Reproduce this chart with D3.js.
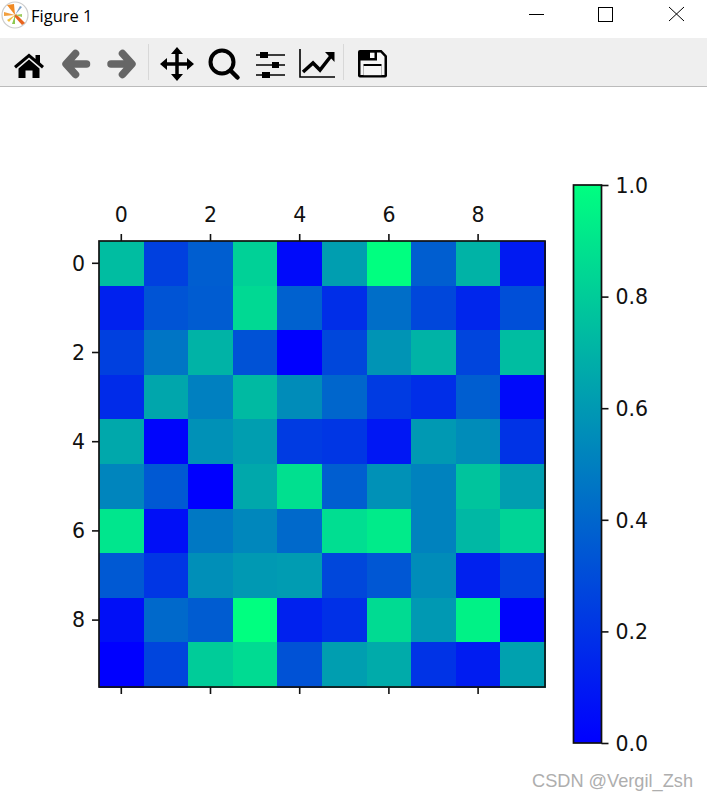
<!DOCTYPE html>
<html><head><meta charset="utf-8">
<style>html,body{margin:0;padding:0;background:#fff;overflow:hidden}svg{display:block}</style>
<script src="https://cdnjs.cloudflare.com/ajax/libs/d3/7.8.5/d3.min.js"></script>
</head><body><svg id="c" width="707" height="801"></svg>
<script>
const rowLabels=[0,1,2,3,4,5,6,7,8,9];
const colLabels=[0,1,2,3,4,5,6,7,8,9];
const row0=[0.74,0.25,0.37,0.82,0.04,0.62,1.00,0.37,0.70,0.10];
const row1=[0.13,0.33,0.36,0.85,0.38,0.18,0.43,0.28,0.15,0.31];
const row2=[0.25,0.46,0.70,0.32,0.00,0.28,0.58,0.70,0.27,0.74];
const row3=[0.17,0.65,0.50,0.73,0.55,0.40,0.23,0.18,0.37,0.04];
const row4=[0.66,0.02,0.57,0.62,0.23,0.21,0.09,0.60,0.55,0.20];
const row5=[0.52,0.35,0.00,0.66,0.88,0.37,0.57,0.51,0.77,0.62];
const row6=[0.90,0.06,0.47,0.53,0.41,0.87,0.92,0.51,0.72,0.83];
const row7=[0.35,0.21,0.56,0.60,0.61,0.28,0.34,0.55,0.13,0.26];
const row8=[0.06,0.41,0.36,1.00,0.13,0.19,0.86,0.60,0.95,0.02];
const row9=[0.00,0.27,0.80,0.86,0.32,0.62,0.67,0.20,0.11,0.63];
const matrix=[row0,row1,row2,row3,row4,row5,row6,row7,row8,row9];
const axisTicks=[0,2,4,6,8];
const cbarTicks=[0,0.2,0.4,0.6,0.8,1];

const svg=d3.select("#c");
const FONT="'DejaVu Sans',sans-serif";
const color=d3.scaleLinear().domain([0,1]).range(["rgb(0,0,255)","rgb(0,255,128)"]);

// window chrome
svg.append("rect").attr("width",707).attr("height",801).attr("fill","#fff");
svg.append("rect").attr("x",0).attr("y",38).attr("width",707).attr("height",48).attr("fill","#efefef");
svg.append("rect").attr("x",0).attr("y",86).attr("width",707).attr("height",1).attr("fill","#bbb");
svg.append("text").attr("x",31).attr("y",22).attr("font-family","'Open Sans',sans-serif").attr("font-size",16.5).attr("fill","#000").text("Figure 1");
// app icon
const ic=svg.append("g").attr("transform","translate(15,15)");
ic.append("circle").attr("r",13).attr("fill","#fff").attr("stroke","#ccc").attr("stroke-width",1.2);
[["M0 0L-8 -10L-1 -11Z","#f08a24"],["M0 0L-11 -3L-11 1Z","#f2a040"],["M1 -1L10 8L7 10L-1 1Z","#e8641e"],["M0 0L-8 5L-6 7Z","#f0c040"],["M0 0L-3 9L0 9Z","#8cc850"],["M0 0L5 -9L7 -8Z","#7aa0c8"],["M0 0L7 -1L7 2Z","#9ccc60"]]
 .forEach(d=>ic.append("path").attr("d",d[0]).attr("fill",d[1]));
// window buttons
const wb=svg.append("g").attr("fill","none").attr("stroke","#000").attr("stroke-width",1).attr("shape-rendering","crispEdges");
wb.append("path").attr("d","M529 14.5H544");
wb.append("rect").attr("x",598.5).attr("y",7.5).attr("width",14).attr("height",14);
svg.append("path").attr("d","M669 7L684 21M684 7L669 21").attr("stroke","#000").attr("fill","none").attr("stroke-width",1);

// toolbar icons
const tb=svg.append("g");
tb.append("path").attr("d","M14 66L29 53.5L35.5 59V55H40V62.5L44 66L42 68.5L29 57.5L16 68.5Z").attr("fill","#000");
tb.append("path").attr("d","M18.5 68.5L29 59.5L39.5 68.5V78H32.5V70.5H25.5V78H18.5Z").attr("fill","#000");
tb.append("path").attr("d","M86.5 64H67M75.5 53.5L66 64L75.5 74.5").attr("fill","none").attr("stroke","#666").attr("stroke-width",7.5).attr("stroke-linecap","round").attr("stroke-linejoin","round");
tb.append("path").attr("d","M111 64H131M122.5 53.5L132 64L122.5 74.5").attr("fill","none").attr("stroke","#666").attr("stroke-width",7.5).attr("stroke-linecap","round").attr("stroke-linejoin","round");
tb.append("rect").attr("x",148).attr("y",44).attr("width",1).attr("height",36).attr("fill","#d8d8d8");
tb.append("rect").attr("x",343).attr("y",44).attr("width",1).attr("height",36).attr("fill","#d8d8d8");
tb.append("path").attr("d","M177 52V76M165 64H189").attr("stroke","#000").attr("stroke-width",3.5).attr("fill","none");
tb.append("path").attr("d","M177 47L183 54H171ZM177 81L183 74H171ZM160 64L167 58V70ZM194 64L187 58V70Z").attr("fill","#000");
tb.append("circle").attr("cx",222).attr("cy",62).attr("r",11.5).attr("fill","none").attr("stroke","#000").attr("stroke-width",4);
tb.append("path").attr("d","M230.5 70.5L237.5 77.5").attr("stroke","#000").attr("stroke-width",4.5).attr("stroke-linecap","round");
tb.append("path").attr("d","M256 55H285M256 65H285M256 75H285").attr("stroke","#000").attr("stroke-width",1.6);
tb.append("rect").attr("x",260).attr("y",52).attr("width",8).attr("height",6).attr("fill","#000");
tb.append("rect").attr("x",272).attr("y",62).attr("width",7).attr("height",6).attr("fill","#000");
tb.append("rect").attr("x",262).attr("y",72).attr("width",8).attr("height",6).attr("fill","#000");
tb.append("path").attr("d","M300 49V77H335").attr("stroke","#000").attr("stroke-width",1.6).attr("fill","none");
tb.append("path").attr("d","M303 72L313 63L320 70L331 56").attr("stroke","#000").attr("stroke-width",3.5).attr("fill","none");
tb.append("path").attr("d","M325 52H334.5V62Z").attr("fill","#000");
tb.append("path").attr("d","M360 50H381.5L387 55.7V75.5Q387 77.5 385 77.5H360Q358 77.5 358 75.5V52Q358 50 360 50Z").attr("fill","#000");
tb.append("path").attr("d","M377 52.5H380.5L384.5 56.7V75H381.5V64H363.5V75H360.5V60.5H377Z").attr("fill","#f6f6f6");
tb.append("rect").attr("x",370).attr("y",52.7).attr("width",4.5).attr("height",5.3).attr("fill","#f6f6f6");
tb.append("rect").attr("x",363.5).attr("y",66).attr("width",18).attr("height",9.2).attr("fill","#f6f6f6");

// heatmap
const left=99,right=545,top_=241,bottom=687;
const x=d3.scaleBand().domain(colLabels).range([left,right]);
const y=d3.scaleBand().domain(rowLabels).range([top_,bottom]);
const g=svg.append("g").attr("shape-rendering","crispEdges");
matrix.forEach((row,i)=>{
  g.selectAll(null).data(row).enter().append("rect")
   .attr("x",(d,j)=>x(colLabels[j])).attr("y",y(rowLabels[i]))
   .attr("width",x.bandwidth()+0.5).attr("height",y.bandwidth()+0.5)
   .attr("fill",d=>color(d));
});
const FS=20.5, TICK=7;
const styleAxis=sel=>{
  sel.selectAll("text").attr("font-family",FONT).attr("font-size",FS).attr("fill","#111");
  sel.selectAll(".tick line").attr("stroke","#111").attr("stroke-width",1.6);
  sel.select(".domain").remove();
};
const xT=svg.append("g").attr("transform",`translate(0,${top_})`);
xT.call(d3.axisTop(x).tickValues(axisTicks).tickSize(TICK).tickPadding(12));styleAxis(xT);
const xB=svg.append("g").attr("transform",`translate(0,${bottom})`);
xB.call(d3.axisBottom(x).tickValues(axisTicks).tickSize(TICK).tickFormat(""));styleAxis(xB);
const yL=svg.append("g").attr("transform",`translate(${left},0)`);
yL.call(d3.axisLeft(y).tickValues(axisTicks).tickSize(TICK).tickPadding(7));styleAxis(yL);
yL.selectAll("text").attr("dy","0.36em");
svg.append("rect").attr("x",left).attr("y",top_).attr("width",right-left).attr("height",bottom-top_).attr("fill","none").attr("stroke","#111").attr("stroke-width",1.7);

// colorbar
const cy=d3.scaleLinear().domain([0,1]).range([743,185]);
const defs=svg.append("defs");
const lg=defs.append("linearGradient").attr("id","cb").attr("x1",0).attr("y1",1).attr("x2",0).attr("y2",0);
lg.selectAll("stop").data(cbarTicks).enter().append("stop").attr("offset",d=>d).attr("stop-color",d=>color(d));
svg.append("rect").attr("x",573.5).attr("y",cy(1)).attr("width",28).attr("height",cy(0)-cy(1)).attr("fill","url(#cb)").attr("stroke","#111").attr("stroke-width",1.7);
const cA=svg.append("g").attr("transform","translate(601.5,0)");
cA.call(d3.axisRight(cy).tickValues(cbarTicks).tickSize(TICK).tickPadding(7).tickFormat(d3.format(".1f")));styleAxis(cA);
cA.selectAll("text").attr("dy","0.36em");

// watermark
svg.append("text").attr("x",693).attr("y",787).attr("text-anchor","end").attr("font-family","'Liberation Sans',sans-serif").attr("font-size",18.2).attr("fill","#aeaeae").text("CSDN @Vergil_Zsh");
</script></body></html>
